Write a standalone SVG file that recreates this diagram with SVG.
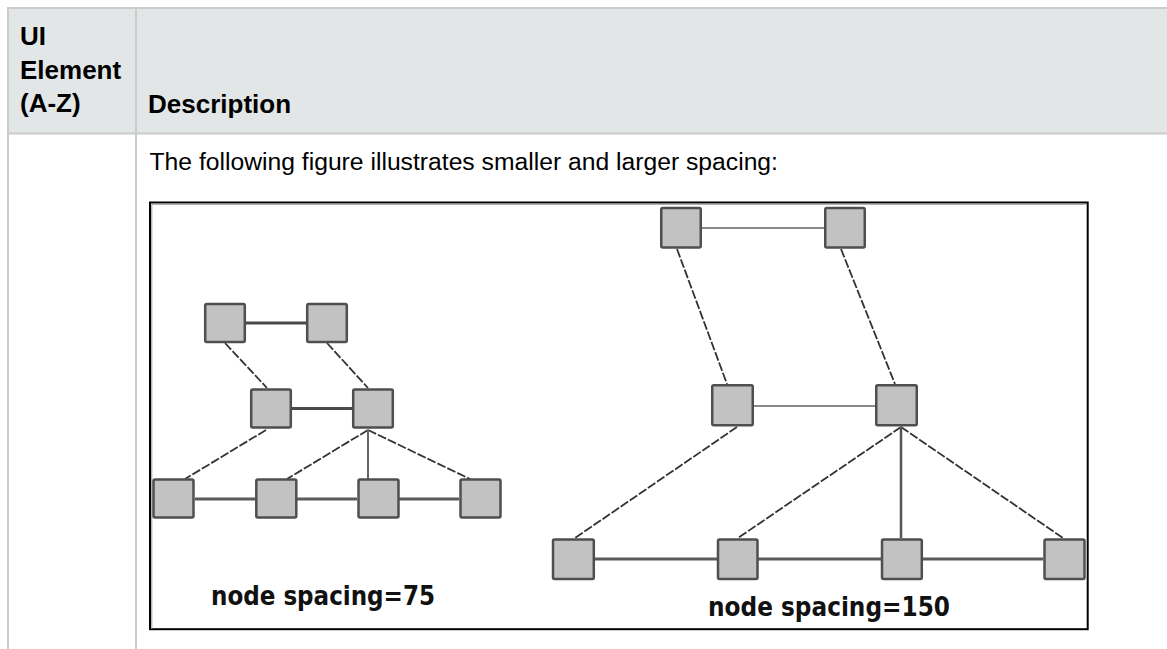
<svg xmlns="http://www.w3.org/2000/svg" width="1167" height="649" viewBox="0 0 1167 649">
<style>
.hdr{font-family:"Liberation Sans",Arial,sans-serif;font-weight:bold;font-size:26px;fill:#000}
.body{font-family:"Liberation Sans",Arial,sans-serif;font-size:24.7px;fill:#000}
.lbl{font-family:"DejaVu Sans","Liberation Sans",sans-serif;font-weight:bold;font-size:26px;font-stretch:condensed;fill:#111}
.grid{stroke:#cccccc;stroke-width:2;fill:none}
.node{fill:#c2c2c2;stroke:#4f4f4f;stroke-width:2.5}
.solidL{stroke:#4a4a4a;stroke-width:3;fill:none}
.solidT{stroke:#8a8a8a;stroke-width:2;fill:none}
.solidB{stroke:#5a5a5a;stroke-width:3;fill:none}
.dash{stroke:#333333;stroke-width:1.8;stroke-dasharray:9 2;fill:none}
</style>
<rect x="0" y="0" width="1167" height="649" fill="#ffffff"/>
<g id="table">
<rect x="8" y="8" width="1159" height="125" fill="#e3e6e7"/>
<line class="grid" x1="8" y1="8" x2="1167" y2="8"/>
<line class="grid" x1="8" y1="133.5" x2="1167" y2="133.5"/>
<line class="grid" x1="8" y1="7" x2="8" y2="649"/>
<line class="grid" x1="136" y1="8" x2="136" y2="649"/>
<text class="hdr" x="20" y="45">UI</text>
<text class="hdr" x="20" y="79">Element</text>
<text class="hdr" x="20" y="112">(A-Z)</text>
<text class="hdr" x="148" y="112.5">Description</text>
<text class="body" x="149.5" y="170">The following figure illustrates smaller and larger spacing:</text>
</g>
<g id="frame">
<rect x="150" y="202.5" width="937.7" height="426.7" fill="#ffffff" stroke="#000" stroke-width="2"/>
<polyline points="151.8,629 151.8,204.3 1086,204.3" fill="none" stroke="#9a9a9a" stroke-width="1"/>
</g>
<g id="connectors">
<line class="solidL" x1="246" y1="323" x2="306" y2="323"/>
<line class="solidL" x1="292" y1="408.5" x2="352" y2="408.5"/>
<line class="solidB" x1="195" y1="499" x2="255" y2="499"/>
<line class="solidB" x1="297" y1="499" x2="357" y2="499"/>
<line class="solidB" x1="399" y1="499" x2="459" y2="499"/>
<line class="dash" x1="225" y1="343" x2="267" y2="388"/>
<line class="dash" x1="327" y1="343" x2="368" y2="388"/>
<line class="dash" x1="266" y1="430" x2="185" y2="479"/>
<line class="dash" x1="368" y1="430" x2="287" y2="479"/>
<line class="dash" x1="368" y1="430" x2="470" y2="479"/>
<line stroke="#666" stroke-width="2" x1="368" y1="430" x2="368" y2="479"/>
<line class="solidT" x1="702" y1="228" x2="824" y2="228"/>
<line class="solidT" x1="754" y1="406" x2="875" y2="406"/>
<line class="solidB" x1="595" y1="559" x2="717" y2="559"/>
<line class="solidB" x1="758" y1="559" x2="881" y2="559"/>
<line class="solidB" x1="923" y1="559" x2="1043" y2="559"/>
<line class="dash" x1="677" y1="249" x2="727" y2="384"/>
<line class="dash" x1="841" y1="249" x2="895" y2="384"/>
<line class="dash" x1="737" y1="427" x2="575" y2="538"/>
<line class="dash" x1="901" y1="427" x2="738" y2="538"/>
<line class="dash" x1="901" y1="427" x2="1063" y2="538"/>
<line stroke="#555" stroke-width="2.5" x1="901" y1="427" x2="901" y2="538"/>
</g>
<g id="left-graph">
<g id="l-tl"><rect class="node" x="205.2" y="304" width="39.6" height="38" rx="1.5"/></g>
<g id="l-tr"><rect class="node" x="307.2" y="304" width="39.6" height="38" rx="1.5"/></g>
<g id="l-ml"><rect class="node" x="251.2" y="389.5" width="39.6" height="38" rx="1.5"/></g>
<g id="l-mr"><rect class="node" x="353.2" y="389.5" width="39.6" height="38" rx="1.5"/></g>
<g id="l-b1"><rect class="node" x="153.5" y="479.5" width="40" height="38" rx="1.5"/></g>
<g id="l-b2"><rect class="node" x="256.3" y="479.5" width="40" height="38" rx="1.5"/></g>
<g id="l-b3"><rect class="node" x="358.5" y="479.5" width="40" height="38" rx="1.5"/></g>
<g id="l-b4"><rect class="node" x="460.5" y="479.5" width="40" height="38" rx="1.5"/></g>
<g id="l-label"><text class="lbl" x="211" y="605" textLength="224" lengthAdjust="spacingAndGlyphs">node spacing=75</text></g>
</g>
<g id="right-graph">
<g id="r-tl"><rect class="node" x="661.25" y="208" width="39.5" height="39.5" rx="1.5"/></g>
<g id="r-tr"><rect class="node" x="825.25" y="208" width="39.5" height="39.5" rx="1.5"/></g>
<g id="r-ml"><rect class="node" x="712.25" y="385.25" width="40.5" height="40" rx="1.5"/></g>
<g id="r-mr"><rect class="node" x="876.25" y="385.25" width="40.5" height="40" rx="1.5"/></g>
<g id="r-b1"><rect class="node" x="553" y="539.5" width="40.8" height="39.5" rx="1.5"/></g>
<g id="r-b2"><rect class="node" x="718" y="539.5" width="39.5" height="39.5" rx="1.5"/></g>
<g id="r-b3"><rect class="node" x="882" y="539.5" width="39.8" height="39.5" rx="1.5"/></g>
<g id="r-b4"><rect class="node" x="1044.5" y="539.5" width="40" height="39.5" rx="1.5"/></g>
<g id="r-label"><text class="lbl" x="708" y="616" textLength="242" lengthAdjust="spacingAndGlyphs">node spacing=150</text></g>
</g>
</svg>
